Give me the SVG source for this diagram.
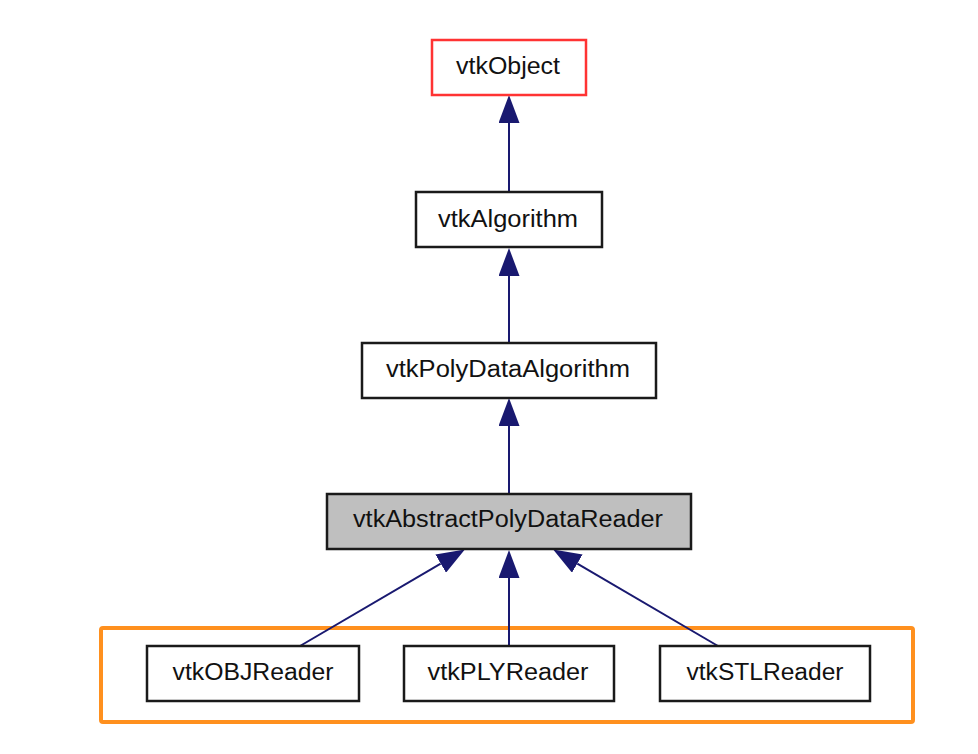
<svg xmlns="http://www.w3.org/2000/svg" width="978" height="754" viewBox="0 0 978 754">
<style>
.box{fill:#ffffff;stroke:#1a1a1a;stroke-width:2.5}
.root{fill:#ffffff;stroke:#ff3333;stroke-width:2.5}
.cur{fill:#bfbfbf;stroke:#1a1a1a;stroke-width:2.5}
.lbl{font-family:"Liberation Sans",Arial,sans-serif;font-size:23px;fill:#111111;text-anchor:middle}
.edge{stroke:#191970;stroke-width:2;fill:none;marker-end:url(#arr)}
.hl{fill:none;stroke:#ff901e;stroke-width:4}
</style>
<defs>
<marker id="arr" markerUnits="userSpaceOnUse" viewBox="0 0 28 21" refX="0" refY="10.5" markerWidth="28" markerHeight="21" orient="auto">
<path d="M0,0 L28,10.5 L0,21 z" fill="#191970"/>
</marker>
</defs>
<rect width="978" height="754" fill="#ffffff"/>
<g id="highlight">
<rect class="hl" x="101" y="628" width="812" height="94" rx="2"/>
</g>
<g id="connectors">
<line class="edge" x1="509" y1="192" x2="509" y2="123"/>
<line class="edge" x1="509" y1="343" x2="509" y2="276"/>
<line class="edge" x1="509" y1="494" x2="509" y2="426"/>
<line class="edge" x1="509" y1="646" x2="509" y2="578"/>
<line class="edge" x1="300" y1="646" x2="440.7" y2="563.6"/>
<line class="edge" x1="718" y1="646" x2="577.3" y2="563.6"/>
</g>
<g id="vtkObject">
<rect class="root" x="432" y="40" width="154" height="55"/>
<text class="lbl" x="508" y="74" textLength="104" lengthAdjust="spacingAndGlyphs">vtkObject</text>
</g>
<g id="vtkAlgorithm">
<rect class="box" x="416" y="192" width="186" height="55"/>
<text class="lbl" x="508" y="226.5" textLength="140" lengthAdjust="spacingAndGlyphs">vtkAlgorithm</text>
</g>
<g id="vtkPolyDataAlgorithm">
<rect class="box" x="362" y="343" width="294" height="55"/>
<text class="lbl" x="508" y="376.5" textLength="244" lengthAdjust="spacingAndGlyphs">vtkPolyDataAlgorithm</text>
</g>
<g id="vtkAbstractPolyDataReader">
<rect class="cur" x="327" y="494" width="364" height="55"/>
<text class="lbl" x="508" y="527" textLength="310" lengthAdjust="spacingAndGlyphs">vtkAbstractPolyDataReader</text>
</g>
<g id="vtkOBJReader">
<rect class="box" x="147" y="646" width="212" height="55"/>
<text class="lbl" x="253" y="680" textLength="161" lengthAdjust="spacingAndGlyphs">vtkOBJReader</text>
</g>
<g id="vtkPLYReader">
<rect class="box" x="404" y="646" width="210" height="55"/>
<text class="lbl" x="508" y="680" textLength="161" lengthAdjust="spacingAndGlyphs">vtkPLYReader</text>
</g>
<g id="vtkSTLReader">
<rect class="box" x="660" y="646" width="210" height="55"/>
<text class="lbl" x="765" y="680" textLength="157" lengthAdjust="spacingAndGlyphs">vtkSTLReader</text>
</g>
</svg>
